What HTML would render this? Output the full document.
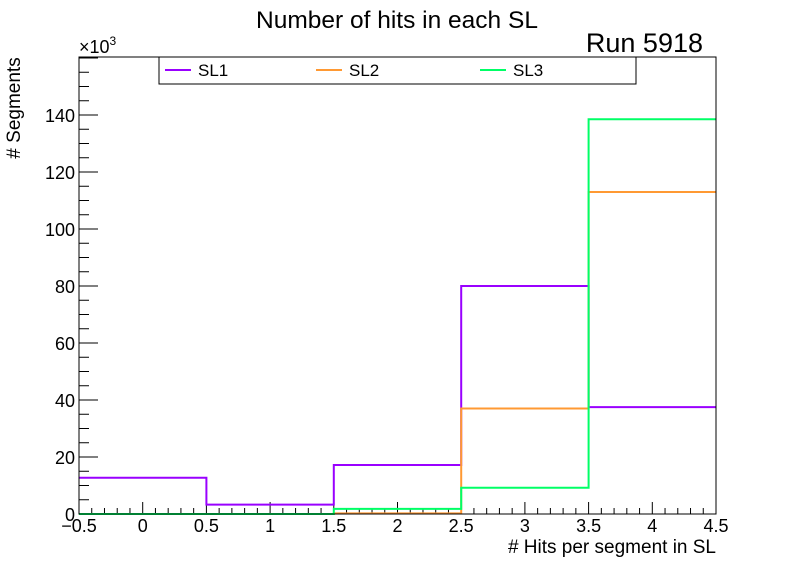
<!DOCTYPE html>
<html><head><meta charset="utf-8"><style>
html,body{margin:0;padding:0;background:#fff;}
svg{display:block;font-family:"Liberation Sans",sans-serif;}
</style></head><body>
<svg id="c" width="796" height="572" viewBox="0 0 796 572">
<rect width="796" height="572" fill="#fff"/>
<text x="397" y="28" font-size="24.5" text-anchor="middle">Number of hits in each SL</text>
<text x="703" y="52" font-size="27" text-anchor="end">Run 5918</text>
<text x="79" y="53" font-size="18">×10<tspan dy="-8" font-size="12">3</tspan></text>
<text transform="translate(20,108) rotate(-90)" font-size="19" text-anchor="middle"># Segments</text>
<text x="716" y="553" font-size="19" text-anchor="end"># Hits per segment in SL</text>
<g id="ticks"></g>
<g id="series"></g>
<rect x="79" y="57" width="637" height="457" fill="none" stroke="#000" stroke-width="1"/>
<g id="legend">
<rect x="159" y="57" width="477" height="27" fill="#fff" stroke="#000"/>
</g>
</svg>
<script>
const categories = [0, 1, 2, 3, 4];
const seriesNames = ["SL1", "SL2", "SL3"];
const seriesColors = ["#9900ff", "#ff9933", "#00ff66"];
const sl1 = [12.7, 3.3, 17.2, 80, 37.5];
const sl2 = [0, 0, 0.2, 37, 113];
const sl3 = [0, 0, 1.8, 9.2, 138.5];
const xTickLabels = ["−0.5", "0", "0.5", "1", "1.5", "2", "2.5", "3", "3.5", "4", "4.5"];
const yTickLabels = ["0", "20", "40", "60", "80", "100", "120", "140"];

const X0 = 79, X1 = 716, Y0 = 514, Y1 = 57;
const xmin = -0.5, xmax = 4.5, ymin = 0, ymax = 160.35;
const sx = v => X0 + (v - xmin) / (xmax - xmin) * (X1 - X0);
const sy = v => Y0 - (v - ymin) / (ymax - ymin) * (Y0 - Y1);
const NS = "http://www.w3.org/2000/svg";
function mk(tag, attrs, parent) {
  const e = document.createElementNS(NS, tag);
  for (const k in attrs) e.setAttribute(k, attrs[k]);
  parent.appendChild(e);
  return e;
}
const ticks = document.getElementById('ticks');
for (let i = 0; i <= 50; i++) {
  const v = xmin + i * 0.1;
  const major = i % 5 === 0;
  const x = sx(v);
  const t = mk('line', {x1: x, x2: x, y1: Y0, y2: Y0 - (major ? 12 : 6), stroke: '#000'}, ticks);
  
  
}
xTickLabels.forEach((lab, i) => {
  const v = xmin + i * 0.5;
  const t = mk('text', {x: sx(v), y: 532, 'font-size': 18, 'text-anchor': 'middle'}, ticks);
  t.textContent = lab;
  
  
});
for (let v = 0; v <= ymax; v += 5) {
  const major = v % 20 === 0;
  const y = sy(v);
  const t = mk('line', {x1: X0, x2: X0 + (major ? 19 : 10), y1: y, y2: y, stroke: '#000'}, ticks);
  
  
}
yTickLabels.forEach((lab, i) => {
  const v = i * 20;
  const t = mk('text', {x: X0 - 4, y: sy(v) + 7, 'font-size': 18, 'text-anchor': 'end'}, ticks);
  t.textContent = lab;
  
  
});
const allSeries = [sl1, sl2, sl3];
const sg = document.getElementById('series');
allSeries.forEach((vals, s) => {
  let d = '';
  categories.forEach((c, i) => {
    const xa = sx(c - 0.5), xb = sx(c + 0.5), y = sy(vals[i]);
    d += (i === 0 ? 'M' : 'L') + xa + ' ' + y + ' L' + xb + ' ' + y + ' ';
  });
  const p = mk('path', {d: d, fill: 'none', stroke: seriesColors[s], 'stroke-width': 2}, sg);
  
  
});
const lg = document.getElementById('legend');
const legX = [165, 316, 480];
seriesNames.forEach((n, s) => {
  const l = mk('line', {x1: legX[s], x2: legX[s] + 26, y1: 70, y2: 70, stroke: seriesColors[s], 'stroke-width': 2}, lg);
  
  
  const t = mk('text', {x: legX[s] + 33, y: 76, 'font-size': 17}, lg);
  t.textContent = n;
  
  
});
</script>
</body></html>
